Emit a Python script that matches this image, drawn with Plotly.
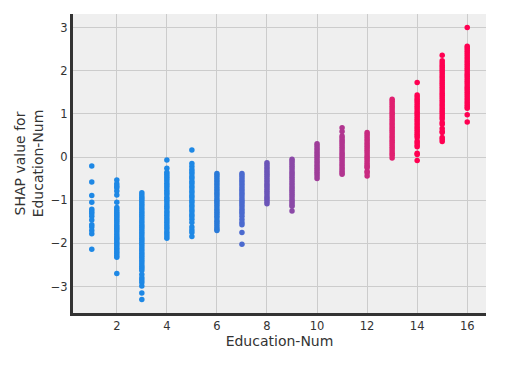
import plotly.graph_objects as go

# Education-Num categories and SHAP values
edu_levels = [1, 2, 3, 4, 5, 6, 7, 8, 9, 10, 11, 12, 13, 14, 15, 16]

shap_1 = [-0.21, -0.58, -0.89, -1.05, -1.21, -1.26, -1.31, -1.37, -1.46, -1.57, -1.62, -1.70, -1.78, -2.14]
shap_2 = [-0.53, -0.62, -0.67, -0.71, -0.79, -0.88, -1.05, -1.17, -1.22, -1.27, -1.31, -1.35, -1.39, -1.43,
          -1.47, -1.52, -1.57, -1.61, -1.65, -1.69, -1.74, -1.79, -1.84, -1.88, -1.92, -1.97, -2.01, -2.05,
          -2.10, -2.14, -2.19, -2.23, -2.28, -2.32, -2.70]
shap_3 = [-0.83, -0.88, -0.93, -0.98, -1.03, -1.08, -1.13, -1.18, -1.23, -1.28, -1.33, -1.38, -1.43, -1.48,
          -1.53, -1.58, -1.63, -1.68, -1.73, -1.78, -1.83, -1.88, -1.93, -1.98, -2.03, -2.08, -2.13, -2.18,
          -2.23, -2.28, -2.33, -2.38, -2.43, -2.48, -2.53, -2.58, -2.63, -2.72, -2.80, -2.85, -2.91, -2.99,
          -3.15, -3.30]
shap_4 = [-0.07, -0.26, -0.35, -0.40, -0.45, -0.50, -0.55, -0.61, -0.66, -0.71, -0.77, -0.82, -0.87, -0.93,
          -0.98, -1.03, -1.09, -1.14, -1.19, -1.25, -1.30, -1.35, -1.41, -1.46, -1.51, -1.57, -1.62, -1.67,
          -1.73, -1.78, -1.83, -1.88]
shap_5 = [0.16, -0.15, -0.22, -0.29, -0.34, -0.39, -0.45, -0.50, -0.56, -0.61, -0.67, -0.72, -0.78, -0.83,
          -0.89, -0.94, -1.00, -1.05, -1.11, -1.16, -1.22, -1.27, -1.33, -1.38, -1.44, -1.52, -1.62, -1.69,
          -1.75, -1.84]
shap_6 = [-0.38, -0.43, -0.48, -0.53, -0.58, -0.63, -0.69, -0.74, -0.79, -0.84, -0.89, -0.95, -1.00, -1.05,
          -1.10, -1.15, -1.21, -1.26, -1.31, -1.36, -1.41, -1.47, -1.52, -1.57, -1.62, -1.67, -1.70]
shap_7 = [-0.38, -0.43, -0.48, -0.53, -0.58, -0.63, -0.69, -0.74, -0.79, -0.84, -0.89, -0.95, -1.00, -1.05,
          -1.10, -1.15, -1.21, -1.26, -1.31, -1.37, -1.45, -1.52, -1.57, -1.75, -2.02]
shap_8 = [-0.13, -0.18, -0.23, -0.28, -0.33, -0.38, -0.43, -0.48, -0.53, -0.58, -0.63, -0.68, -0.73, -0.78,
          -0.83, -0.88, -0.93, -0.98, -1.03, -1.08]
shap_9 = [-0.05, -0.10, -0.15, -0.20, -0.25, -0.30, -0.35, -0.40, -0.45, -0.50, -0.55, -0.60, -0.65, -0.70,
          -0.75, -0.80, -0.85, -0.90, -0.95, -1.00, -1.05, -1.10, -1.14, -1.25]
shap_10 = [0.31, 0.26, 0.21, 0.16, 0.11, 0.06, 0.01, -0.04, -0.09, -0.14, -0.19, -0.24, -0.29, -0.34, -0.39,
           -0.44, -0.50]
shap_11 = [0.68, 0.59, 0.49, 0.44, 0.39, 0.34, 0.29, 0.24, 0.19, 0.14, 0.09, 0.04, -0.01, -0.06, -0.11,
           -0.16, -0.21, -0.26, -0.31, -0.36, -0.40]
shap_12 = [0.57, 0.52, 0.47, 0.42, 0.37, 0.32, 0.27, 0.22, 0.17, 0.12, 0.07, 0.02, -0.03, -0.08, -0.13,
           -0.18, -0.22, -0.25, -0.33, -0.37, -0.44]
shap_13 = [1.34, 1.29, 1.24, 1.19, 1.14, 1.09, 1.04, 0.99, 0.94, 0.89, 0.84, 0.79, 0.74, 0.69, 0.64, 0.59,
           0.54, 0.49, 0.44, 0.39, 0.34, 0.29, 0.24, 0.19, 0.14, 0.09, 0.04, -0.02]
shap_14 = [1.73, 1.44, 1.39, 1.34, 1.29, 1.24, 1.19, 1.14, 1.09, 1.04, 0.99, 0.94, 0.89, 0.84, 0.79, 0.74,
           0.69, 0.64, 0.59, 0.54, 0.50, 0.45, 0.37, 0.33, 0.28, 0.24, 0.09, 0.06, -0.08]
shap_15 = [2.36, 2.23, 2.18, 2.13, 2.08, 2.03, 1.98, 1.93, 1.88, 1.83, 1.78, 1.73, 1.68, 1.63, 1.58, 1.53,
           1.48, 1.43, 1.38, 1.33, 1.28, 1.23, 1.18, 1.13, 1.08, 1.03, 0.98, 0.93, 0.88, 0.80, 0.76, 0.66,
           0.60, 0.57, 0.45, 0.41, 0.36]
shap_16 = [3.00, 2.57, 2.52, 2.47, 2.42, 2.37, 2.32, 2.27, 2.22, 2.17, 2.12, 2.07, 2.02, 1.97, 1.92, 1.87,
           1.82, 1.77, 1.72, 1.67, 1.62, 1.57, 1.52, 1.47, 1.42, 1.37, 1.32, 1.27, 1.22, 1.17, 1.13, 0.98, 0.81]

x_ticks = [2, 4, 6, 8, 10, 12, 14, 16]
y_ticks = [-3, -2, -1, 0, 1, 2, 3]

columns = [shap_1, shap_2, shap_3, shap_4, shap_5, shap_6, shap_7, shap_8,
           shap_9, shap_10, shap_11, shap_12, shap_13, shap_14, shap_15, shap_16]

xs, ys = [], []
for lvl, vals in zip(edu_levels, columns):
    xs.extend([lvl] * len(vals))
    ys.extend(vals)

red_blue = [
    [0.0, "#1E88E5"], [0.11, "#2A7AD8"], [0.22, "#4A6ACF"], [0.33, "#6A55B8"],
    [0.44, "#8A4AA8"], [0.56, "#A03C98"], [0.67, "#B23590"], [0.78, "#C82A80"],
    [0.89, "#E02070"], [1.0, "#FF0052"],
]

fig = go.Figure(go.Scatter(
    x=xs, y=ys, mode="markers",
    marker=dict(size=5.5, color=xs, colorscale=red_blue, cmin=5, cmax=14,
                line=dict(width=0)),
    showlegend=False,
))

# page body adds an 8px offset, so the figure is 8px smaller and margins shifted
fig.update_layout(
    width=513, height=358,
    margin=dict(l=65, r=35, t=6, b=53),
    paper_bgcolor="white", plot_bgcolor="#EFEFEF",
    font=dict(family="DejaVu Sans", size=11, color="#333333"),
    xaxis=dict(
        range=[0.25, 16.75], tickvals=x_ticks, showgrid=True, gridcolor="#CCCCCC",
        gridwidth=1, zeroline=False, showline=True, linewidth=3, linecolor="#333333",
        ticks="", tickfont=dict(size=11.5, color="#333333"), automargin=False,
        title=dict(text="Education-Num", font=dict(size=14, color="#333333"), standoff=1),
    ),
    yaxis=dict(
        range=[-3.615, 3.315], tickvals=y_ticks, showgrid=True, gridcolor="#CCCCCC",
        gridwidth=1, zeroline=False, showline=True, linewidth=3, linecolor="#333333",
        ticks="", tickfont=dict(size=11.5, color="#333333"), automargin=False,
        title=dict(text="SHAP value for<br>Education-Num", font=dict(size=14, color="#333333"), standoff=4),
    ),
)

fig.write_html("out.html")
